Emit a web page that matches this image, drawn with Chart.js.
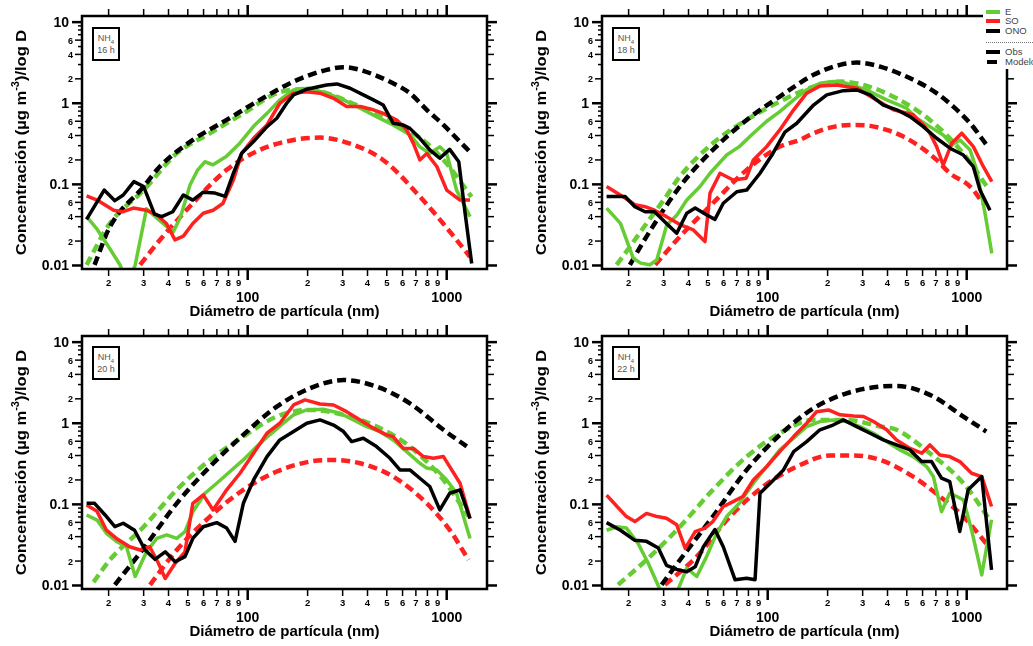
<!DOCTYPE html>
<html>
<head>
<meta charset="UTF-8">
<title>NH4: distribuciones de tamaño observadas y modeladas</title>
<script src="https://cdn.jsdelivr.net/npm/chart.js@4/dist/chart.umd.min.js"></script>
<style>
body {
  margin: 0;
  width: 1033px;
  height: 646px;
  position: relative;
  overflow: hidden;
  background: #fff;
  font-family: "Liberation Sans", Arial, sans-serif;
}
canvas {
  position: absolute;
}
.tag {
  position: absolute;
  width: 28px;
  height: 34px;
  border: 2px solid #000;
  box-sizing: border-box;
  background: #fff;
  color: #555;
  font-size: 9px;
  line-height: 12px;
  text-align: center;
  padding-top: 3px;
}
.tag sub {
  font-size: 6px;
  line-height: 0;
}
#legend {
  position: absolute;
  left: 983px;
  top: 0;
  width: 50px;
  height: 69px;
  background: #fff;
}
#legend .sw {
  position: absolute;
  left: 3px;
  width: 14px;
  height: 4px;
}
#legend .lb {
  position: absolute;
  left: 22px;
  font-size: 9.5px;
  color: #444;
  line-height: 10px;
}
</style>
</head>
<body>
<canvas id="c16" width="520" height="320" style="left:0;top:0"></canvas>
<canvas id="c18" width="520" height="320" style="left:520px;top:0"></canvas>
<canvas id="c20" width="520" height="320" style="left:0;top:320px"></canvas>
<canvas id="c22" width="520" height="320" style="left:520px;top:320px"></canvas>

<div class="tag" style="left:92px;top:27px">NH<sub>4</sub><br>16 h</div>
<div class="tag" style="left:612px;top:27px">NH<sub>4</sub><br>18 h</div>
<div class="tag" style="left:92px;top:346px">NH<sub>4</sub><br>20 h</div>
<div class="tag" style="left:612px;top:346px">NH<sub>4</sub><br>22 h</div>

<div id="legend">
  <div class="sw" style="top:10px;background:#66cc33"></div><div class="lb" style="top:7px">E</div>
  <div class="sw" style="top:19px;background:#ff2020"></div><div class="lb" style="top:16px">SO</div>
  <div class="sw" style="top:29px;background:#000"></div><div class="lb" style="top:26px">ONO</div>
  <div style="position:absolute;left:3px;top:42px;width:47px;border-top:1px dotted #777"></div>
  <div class="sw" style="top:50px;background:#000"></div><div class="lb" style="top:47px">Obs</div>
  <div class="sw" style="top:60px;left:4px;width:10px;background:#000"></div><div class="lb" style="top:57px">Modelo</div>
</div>

<script>
// axis ranges (nm and ug m-3 / log D)
var X_MIN = 14.7, X_MAX = 1594;
var Y_MIN = 0.00905, Y_MAX = 11.9;

var xTicks = [20, 30, 40, 50, 60, 70, 80, 90, 100, 200, 300, 400, 500, 600, 700, 800, 900, 1000];
var xMajor = [100, 1000];
var yTicks = [0.01, 0.02, 0.03, 0.04, 0.05, 0.06, 0.07, 0.08, 0.09,
              0.1, 0.2, 0.3, 0.4, 0.5, 0.6, 0.7, 0.8, 0.9,
              1, 2, 3, 4, 5, 6, 7, 8, 9, 10];
var yMajor = [0.01, 0.1, 1, 10];
var yLabeled = [0.02, 0.04, 0.06, 0.2, 0.4, 0.6, 2, 4, 6];

var GREEN = "#66cc33", RED = "#ff2020", BLACK = "#000000";

// ---- 16 h, observed ----
var e16_d = [15.5, 17.5, 20, 22.8, 25, 27.2, 31, 36, 42.3, 46, 51.3, 56, 61, 67, 78, 91, 107, 125, 145, 170, 202, 249, 303, 367, 444, 538, 653, 733, 822, 923, 1000, 1121, 1310];
var e16_c = [0.04, 0.028, 0.017, 0.0102, 0.006, 0.0101, 0.05, 0.036, 0.026, 0.04, 0.098, 0.15, 0.19, 0.174, 0.22, 0.32, 0.52, 0.75, 1.1, 1.46, 1.53, 1.33, 1.1, 0.87, 0.685, 0.54, 0.41, 0.29, 0.24, 0.29, 0.24, 0.085, 0.04];
var s16_d = [15.5, 17.5, 21.2, 23.7, 26.6, 31, 35, 39, 43.1, 47.5, 53, 59.8, 67, 75, 84.7, 93.3, 107, 125, 145, 170, 198, 231, 270, 314, 367, 428, 480, 561, 629, 680, 733, 794, 892, 1000, 1167, 1310];
var s16_c = [0.072, 0.064, 0.048, 0.046, 0.051, 0.048, 0.042, 0.033, 0.0207, 0.023, 0.033, 0.044, 0.048, 0.058, 0.113, 0.242, 0.37, 0.54, 1.0, 1.33, 1.39, 1.33, 1.15, 0.91, 0.91, 0.83, 0.75, 0.62, 0.47, 0.32, 0.2, 0.24, 0.166, 0.085, 0.064, 0.064];
var o16_d = [15.5, 19, 21.5, 23.7, 26.8, 30, 34, 37, 42, 47.5, 53, 59.8, 68.5, 77, 84.7, 93.3, 107, 125, 140, 157, 170, 198, 249, 281, 327, 381, 428, 480, 538, 605, 653, 733, 822, 923, 1035, 1150, 1236, 1335];
var o16_c = [0.037, 0.085, 0.063, 0.074, 0.108, 0.094, 0.043, 0.04, 0.046, 0.074, 0.064, 0.08, 0.078, 0.071, 0.137, 0.242, 0.337, 0.516, 0.653, 1.0, 1.27, 1.49, 1.68, 1.73, 1.53, 1.27, 1.1, 0.95, 0.567, 0.54, 0.49, 0.37, 0.266, 0.21, 0.27, 0.19, 0.045, 0.0106];
// ---- 16 h, model ----
var me16_d = [15.5, 20.3, 30, 44, 64.6, 95, 140, 200, 249, 367, 538, 794, 1000, 1333];
var me16_c = [0.0102, 0.033, 0.085, 0.241, 0.427, 0.75, 1.33, 1.5, 1.33, 0.91, 0.6, 0.321, 0.18, 0.07];
var ms16_d = [28.8, 36.2, 53, 78.4, 115, 170, 231, 303, 479, 760, 1122, 1309];
var ms16_c = [0.0102, 0.0206, 0.0585, 0.151, 0.266, 0.353, 0.377, 0.337, 0.2, 0.064, 0.0206, 0.0128];
var mo16_d = [17, 20.3, 30, 36.2, 53, 78.4, 115, 170, 249, 303, 367, 538, 653, 794, 963, 1121, 1333];
var mo16_c = [0.0102, 0.03, 0.094, 0.166, 0.353, 0.623, 1.1, 1.85, 2.58, 2.78, 2.58, 1.76, 1.33, 0.83, 0.54, 0.37, 0.24];

// ---- 18 h, observed ----
var e18_d = [15.5, 18.2, 21.1, 23, 25.6, 27.7, 31.1, 35, 39.2, 45.7, 51.3, 62.2, 72, 84.7, 98.8, 115, 135, 157, 183, 213, 249, 314, 396, 498, 561, 653, 762, 841, 925, 1040, 1122, 1236, 1337];
var e18_c = [0.051, 0.033, 0.0123, 0.0107, 0.0102, 0.0117, 0.0316, 0.042, 0.064, 0.094, 0.137, 0.23, 0.292, 0.427, 0.6, 0.79, 1.1, 1.46, 1.76, 1.85, 1.76, 1.46, 1.1, 0.87, 0.653, 0.515, 0.407, 0.306, 0.353, 0.265, 0.151, 0.044, 0.0141];
var s18_d = [15.5, 19.2, 21.5, 24.2, 27, 31, 36.2, 42.3, 48.4, 51.3, 57.6, 67, 78, 84.7, 98.8, 115, 135, 157, 183, 222, 281, 340, 428, 538, 605, 653, 706, 762, 841, 944, 1080, 1213, 1337];
var s18_c = [0.094, 0.068, 0.056, 0.053, 0.048, 0.04, 0.032, 0.0274, 0.0197, 0.078, 0.137, 0.113, 0.119, 0.2, 0.292, 0.469, 0.83, 1.33, 1.63, 1.68, 1.53, 1.15, 0.83, 0.72, 0.54, 0.427, 0.292, 0.173, 0.321, 0.427, 0.292, 0.165, 0.108];
var o18_d = [15.5, 19.2, 21.5, 24.2, 27, 31, 34.9, 39.2, 43.2, 49.4, 54.3, 59.8, 69.9, 78.4, 91.5, 105, 122, 140, 170, 198, 240, 280, 327, 381, 445, 519, 605, 706, 824, 962, 1080, 1166, 1309];
var o18_c = [0.0707, 0.0707, 0.053, 0.046, 0.046, 0.033, 0.025, 0.044, 0.051, 0.042, 0.037, 0.0585, 0.081, 0.085, 0.137, 0.23, 0.44, 0.567, 0.95, 1.27, 1.43, 1.46, 1.27, 0.95, 0.83, 0.684, 0.515, 0.37, 0.279, 0.23, 0.165, 0.085, 0.048];
// ---- 18 h, model ----
var me18_d = [17.4, 20.3, 24.6, 30, 36.2, 53, 78.4, 115, 170, 231, 303, 444, 653, 963, 1259];
var me18_c = [0.0102, 0.017, 0.033, 0.064, 0.125, 0.321, 0.623, 1.05, 1.6, 1.85, 1.68, 1.15, 0.623, 0.24, 0.095];
var ms18_d = [27.2, 36.2, 53, 78.4, 115, 145, 170, 206, 259, 327, 396, 480, 582, 706, 824, 1040, 1213];
var ms18_c = [0.0102, 0.0227, 0.0585, 0.151, 0.292, 0.353, 0.427, 0.5, 0.54, 0.526, 0.469, 0.388, 0.292, 0.2, 0.137, 0.094, 0.058];
var mo18_d = [20.3, 24.6, 36.2, 53, 78.4, 115, 170, 231, 281, 367, 582, 706, 857, 1040, 1259];
var mo18_c = [0.0102, 0.0227, 0.094, 0.266, 0.623, 1.21, 2.24, 2.97, 3.17, 2.83, 1.77, 1.33, 0.908, 0.567, 0.306];

// ---- 20 h, observed ----
var e20_d = [15.5, 17.5, 19.5, 21.9, 24.6, 27.2, 31, 34.9, 39.2, 44, 48.4, 53, 61, 69.9, 81.5, 95, 111, 129, 151, 170, 198, 240, 291, 340, 396, 462, 538, 629, 733, 794, 892, 1000, 1121, 1310];
var e20_c = [0.074, 0.064, 0.044, 0.035, 0.03, 0.0129, 0.026, 0.038, 0.042, 0.038, 0.046, 0.081, 0.137, 0.182, 0.254, 0.353, 0.516, 0.72, 1.0, 1.27, 1.46, 1.49, 1.33, 1.1, 0.91, 0.79, 0.623, 0.447, 0.321, 0.28, 0.266, 0.2, 0.137, 0.038];
var s20_d = [15.5, 17.5, 19.5, 21.9, 25.5, 28.8, 32.2, 35.6, 38.5, 43.2, 48.4, 53, 59.8, 67, 78.4, 91.5, 107, 125, 145, 170, 194, 231, 270, 314, 367, 428, 498, 538, 605, 680, 763, 857, 963, 1035, 1167, 1310];
var s20_c = [0.098, 0.082, 0.048, 0.038, 0.03, 0.0274, 0.03, 0.0188, 0.0122, 0.0188, 0.026, 0.103, 0.131, 0.0854, 0.151, 0.242, 0.427, 0.753, 1.0, 1.68, 1.94, 1.73, 1.68, 1.39, 1.1, 0.87, 0.72, 0.685, 0.49, 0.49, 0.388, 0.37, 0.388, 0.292, 0.182, 0.067];
var o20_d = [15.5, 17, 19.2, 21.5, 23.7, 27, 30.5, 34.2, 38.5, 43.2, 48.4, 53, 59.8, 69.9, 78.4, 86.4, 95.1, 107, 125, 145, 170, 198, 231, 270, 303, 333, 381, 444, 519, 582, 653, 733, 822, 923, 1035, 1167, 1310];
var o20_c = [0.103, 0.103, 0.074, 0.053, 0.0585, 0.048, 0.0274, 0.021, 0.026, 0.0196, 0.0227, 0.038, 0.053, 0.0595, 0.051, 0.035, 0.103, 0.2, 0.388, 0.623, 0.79, 1.0, 1.1, 0.95, 0.79, 0.594, 0.653, 0.516, 0.37, 0.266, 0.266, 0.21, 0.166, 0.0854, 0.137, 0.151, 0.067];
// ---- 20 h, model ----
var me20_d = [16.8, 20.3, 30, 44, 64.6, 95, 140, 206, 303, 444, 653, 963, 1287];
var me20_c = [0.011, 0.0207, 0.053, 0.151, 0.353, 0.685, 1.21, 1.46, 1.27, 0.91, 0.516, 0.2, 0.071];
var ms20_d = [32.3, 44, 64.6, 95, 140, 206, 270, 367, 538, 794, 1035, 1287];
var ms20_c = [0.0102, 0.0274, 0.0707, 0.151, 0.254, 0.337, 0.353, 0.321, 0.22, 0.103, 0.0484, 0.0207];
var mo20_d = [21.5, 30, 44, 64.6, 95, 140, 206, 303, 444, 653, 963, 1287];
var mo20_c = [0.0102, 0.0287, 0.103, 0.292, 0.718, 1.6, 2.7, 3.41, 2.83, 1.76, 0.83, 0.5];

// ---- 22 h, observed ----
var e22_d = [15.5, 17.5, 19.5, 22.3, 25.1, 28.3, 32, 35.5, 39.2, 44, 49.3, 55.4, 62.2, 72, 84.7, 98.8, 115, 135, 157, 183, 213, 249, 291, 340, 396, 462, 538, 629, 680, 747, 822, 892, 963, 1058, 1190, 1333];
var e22_c = [0.048, 0.053, 0.051, 0.033, 0.0188, 0.0097, 0.006, 0.009, 0.0164, 0.0129, 0.0227, 0.044, 0.0707, 0.103, 0.182, 0.292, 0.469, 0.653, 0.91, 1.05, 1.1, 1.05, 0.91, 0.753, 0.594, 0.469, 0.388, 0.292, 0.22, 0.0813, 0.137, 0.125, 0.113, 0.0484, 0.0135, 0.0645];
var s22_d = [15.5, 17.5, 19.5, 21.5, 24.6, 27.8, 31, 34.9, 38.5, 43.2, 48.4, 53, 59.8, 67, 75, 84.7, 98.8, 115, 135, 157, 176, 202, 231, 270, 303, 340, 396, 444, 519, 594, 653, 733, 822, 923, 1058, 1190, 1333];
var s22_c = [0.13, 0.094, 0.0707, 0.0613, 0.0774, 0.0707, 0.0675, 0.056, 0.0287, 0.046, 0.051, 0.0613, 0.094, 0.108, 0.125, 0.2, 0.292, 0.447, 0.685, 1.0, 1.39, 1.46, 1.27, 1.23, 1.21, 1.05, 0.83, 0.623, 0.49, 0.427, 0.54, 0.407, 0.388, 0.337, 0.242, 0.22, 0.094];
var o22_d = [15.5, 18.2, 21.5, 24.6, 28.2, 31, 34.9, 39.2, 43.2, 47.5, 54.3, 59.8, 68.5, 78.4, 86.4, 91.5, 103, 120, 135, 157, 183, 213, 240, 280, 327, 381, 444, 519, 594, 666, 747, 822, 923, 1017, 1190, 1333];
var o22_c = [0.0595, 0.048, 0.036, 0.035, 0.029, 0.0177, 0.0158, 0.0148, 0.017, 0.03, 0.049, 0.03, 0.0118, 0.0123, 0.0118, 0.137, 0.182, 0.266, 0.447, 0.594, 0.83, 0.95, 1.1, 0.91, 0.753, 0.623, 0.54, 0.469, 0.337, 0.337, 0.21, 0.191, 0.0463, 0.151, 0.22, 0.0156];
// ---- 22 h, model ----
var me22_d = [17.7, 24.6, 36.2, 53, 78.4, 115, 170, 249, 367, 444, 653, 963, 1310];
var me22_c = [0.0102, 0.0207, 0.053, 0.151, 0.388, 0.753, 1.1, 1.1, 0.91, 0.83, 0.427, 0.182, 0.064];
var ms22_d = [30.4, 44, 64.6, 95, 140, 206, 270, 367, 538, 733, 963, 1287];
var ms22_c = [0.0102, 0.0227, 0.0707, 0.166, 0.292, 0.4, 0.4, 0.353, 0.22, 0.125, 0.0707, 0.0305];
var mo22_d = [29.3, 36.2, 53, 78.4, 115, 170, 249, 367, 444, 653, 963, 1254];
var mo22_c = [0.0102, 0.0206, 0.0707, 0.266, 0.718, 1.53, 2.34, 2.83, 2.88, 2.24, 1.21, 0.79];

function pts(d, c) {
    return d.map(function(v, i) { return {x: v, y: c[i]}; });
}

function lineSet(d, c, color, dashed) {
    return {
        data: pts(d, c),
        borderColor: color,
        borderWidth: dashed ? 4.5 : 3.5,
        borderDash: dashed ? [9, 5] : [],
        borderCapStyle: "butt",
        borderJoinStyle: "round",
        cubicInterpolationMode: dashed ? "monotone" : "default",
        tension: 0,
        pointRadius: 0,
        fill: false
    };
}

function leadDigit(v) {
    return String(Math.round(v / Math.pow(10, Math.floor(Math.log10(v) + 1e-9))));
}

// frame, ticks on all four sides, tick labels and axis titles
var axisPlugin = {
    id: "axisFrame",
    afterDatasetsDraw: function(chart) {
        var ctx = chart.ctx, a = chart.chartArea;
        var xs = chart.scales.x, ys = chart.scales.y;
        ctx.save();
        ctx.strokeStyle = "#000";
        ctx.fillStyle = "#000";
        function seg(x1, y1, x2, y2, w) {
            ctx.lineWidth = w;
            ctx.beginPath();
            ctx.moveTo(x1, y1);
            ctx.lineTo(x2, y2);
            ctx.stroke();
        }
        ctx.textAlign = "center";
        ctx.textBaseline = "middle";
        xTicks.forEach(function(v) {
            var px = xs.getPixelForValue(v);
            var major = xMajor.indexOf(v) >= 0;
            var len = major ? 11 : 7, w = major ? 2.5 : 1.5;
            seg(px, a.bottom, px, a.bottom + len, w);
            seg(px, a.top, px, a.top - len, w);
            if (major) {
                ctx.font = "bold 14px 'Liberation Sans'";
                ctx.fillText(String(v), px, a.bottom + 29);
            } else {
                ctx.font = "bold 9.5px 'Liberation Sans'";
                ctx.fillText(leadDigit(v), px, a.bottom + 14);
            }
        });
        ctx.textAlign = "right";
        yTicks.forEach(function(v) {
            var py = ys.getPixelForValue(v);
            var major = yMajor.indexOf(v) >= 0;
            var lab = yLabeled.indexOf(v) >= 0;
            var len = major ? 10 : (lab ? 7 : 4);
            var w = major ? 2.5 : 1.5;
            seg(a.left, py, a.left - len, py, w);
            seg(a.right, py, a.right + len, py, w);
            if (major) {
                ctx.font = "bold 14px 'Liberation Sans'";
                ctx.fillText(String(v), a.left - 13, py + 1);
            } else if (lab) {
                ctx.font = "bold 9px 'Liberation Sans'";
                ctx.fillText(leadDigit(v), a.left - 9, py + 1);
            }
        });
        ctx.lineWidth = 2.5;
        ctx.strokeRect(a.left, a.top, a.right - a.left, a.bottom - a.top);

        // x title
        ctx.textAlign = "center";
        ctx.font = "bold 15px 'Liberation Sans'";
        ctx.fillText("Diámetro de partícula (nm)", (a.left + a.right) / 2, a.bottom + 43);

        // y title with superscript, slightly stretched along the text like the original
        var t1 = "Concentración (µg m", t2 = "-3", t3 = ")/log D";
        var big = "bold 15px 'Liberation Sans'", small = "bold 10px 'Liberation Sans'";
        ctx.font = big;
        var w1 = ctx.measureText(t1).width, w3 = ctx.measureText(t3).width;
        ctx.font = small;
        var w2 = ctx.measureText(t2).width;
        var total = w1 + w2 + w3;
        ctx.translate(22, (a.top + a.bottom) / 2);
        ctx.rotate(-Math.PI / 2);
        ctx.scale(1.1, 1);
        ctx.textAlign = "left";
        ctx.font = big;
        ctx.fillText(t1, -total / 2, 0);
        ctx.font = small;
        ctx.fillText(t2, -total / 2 + w1, -6);
        ctx.font = big;
        ctx.fillText(t3, -total / 2 + w1 + w2, 0);
        ctx.restore();
    }
};

function makePanel(id, obsE, obsS, obsO, modE, modS, modO) {
    new Chart(document.getElementById(id), {
        type: "line",
        data: {
            // first dataset is drawn on top
            datasets: [
                lineSet(obsO[0], obsO[1], BLACK, false),
                lineSet(obsS[0], obsS[1], RED, false),
                lineSet(obsE[0], obsE[1], GREEN, false),
                lineSet(modO[0], modO[1], BLACK, true),
                lineSet(modE[0], modE[1], GREEN, true),
                lineSet(modS[0], modS[1], RED, true)
            ]
        },
        options: {
            responsive: false,
            animation: false,
            events: [],
            layout: {padding: {left: 0, top: 16, right: 33, bottom: 0}},
            plugins: {legend: {display: false}, tooltip: {enabled: false}},
            scales: {
                x: {
                    type: "logarithmic", min: X_MIN, max: X_MAX,
                    ticks: {display: false}, grid: {display: false}, border: {display: false},
                    afterFit: function(s) { s.height = 51; }
                },
                y: {
                    type: "logarithmic", min: Y_MIN, max: Y_MAX,
                    ticks: {display: false}, grid: {display: false}, border: {display: false},
                    afterFit: function(s) { s.width = 82; }
                }
            }
        },
        plugins: [axisPlugin]
    });
}

makePanel("c16", [e16_d, e16_c], [s16_d, s16_c], [o16_d, o16_c], [me16_d, me16_c], [ms16_d, ms16_c], [mo16_d, mo16_c]);
makePanel("c18", [e18_d, e18_c], [s18_d, s18_c], [o18_d, o18_c], [me18_d, me18_c], [ms18_d, ms18_c], [mo18_d, mo18_c]);
makePanel("c20", [e20_d, e20_c], [s20_d, s20_c], [o20_d, o20_c], [me20_d, me20_c], [ms20_d, ms20_c], [mo20_d, mo20_c]);
makePanel("c22", [e22_d, e22_c], [s22_d, s22_c], [o22_d, o22_c], [me22_d, me22_c], [ms22_d, ms22_c], [mo22_d, mo22_c]);
</script>
</body>
</html>
